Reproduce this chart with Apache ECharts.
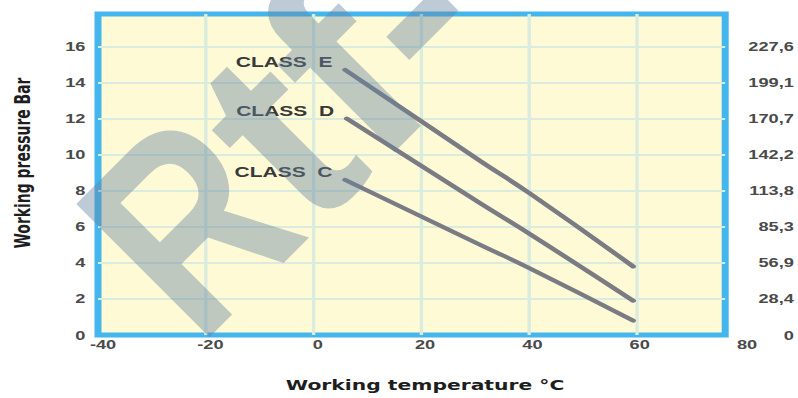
<!DOCTYPE html>
<html>
<head>
<meta charset="utf-8">
<script src="https://cdn.jsdelivr.net/npm/echarts@6/dist/echarts.min.js"></script>
<style>
  html, body { margin: 0; padding: 0; background: #ffffff; overflow: hidden; }
  /* the chart is laid out narrow and widened horizontally */
  #wrap { width: 798px; height: 398px; overflow: hidden; }
  #chart { width: 570px; height: 398px; transform-origin: 0 0; transform: scaleX(1.4); }
</style>
</head>
<body>
<div id="wrap"><div id="chart"></div></div>
<script>
// Pressure rating vs temperature for pipe classes C, D and E
const xTicks = [-40, -20, 0, 20, 40, 60, 80];          // °C
const yTicks = [0, 2, 4, 6, 8, 10, 12, 14, 16];        // bar
const psiLabels = ['0', '28,4', '56,9', '85,3', '113,8', '142,2', '170,7', '199,1', '227,6'];

const classNames = ['CLASS\u00a0\u00a0E', 'CLASS\u00a0\u00a0D', 'CLASS\u00a0\u00a0C'];
const classE = [[5.9, 14.7], [31, 9.65], [40.2, 7.85], [59.4, 3.8]];
const classD = [[6.2, 12.0], [31, 7.3], [40.2, 5.6], [59.4, 1.9]];
const classC = [[5.9, 8.6], [31, 5.0], [40.2, 3.7], [59.4, 0.8]];

const STRETCH = 1.4;
const W = 798 / STRETCH;
const LINE_COLOR = '#7a7b83';

const tickFont = { fontFamily: 'Liberation Sans', fontSize: 13, fontWeight: 'bold', color: '#4a4a4a' };

function lineSeries(name, pts) {
  return {
    name: name,
    type: 'line',
    xAxisIndex: 0,
    yAxisIndex: 0,
    symbol: 'circle',
    symbolSize: 2,
    showSymbol: true,
    itemStyle: { color: LINE_COLOR },
    smooth: 0.5,
    lineStyle: { color: LINE_COLOR, width: 4, cap: 'round' },
    label: { show: false },
    data: pts.map((p, i) => i === 0 ? {
      value: p,
      label: {
        show: true, position: 'left', distance: 8, offset: [0, -8],
        formatter: name,
        fontFamily: 'Liberation Sans', fontWeight: 'bold', fontSize: 15, color: '#383838'
      }
    } : p),
    z: 3
  };
}

// big diagonal watermark letters, placed along a 45° baseline
const wmLetters = ['R', 't', 'f', '-'];
const wmAlong = [-25, 100, 191, 282];
const wmScale = [0.81, 1, 1, 1];
function wmPos(s, h) {
  const r2 = Math.SQRT2;
  return [(548 - h * r2 + s * r2) / 2, (548 - h * r2 - s * r2) / 2];
}

const chart = echarts.init(document.getElementById('chart'), null, { renderer: 'svg' });
chart.setOption({
  animation: false,
  grid: [
    { left: 66.4, right: W - 520, top: 14, bottom: 63, show: true,
      backgroundColor: '#fffad6', borderColor: '#44b6ee', borderWidth: 5 },
    { left: 73.6, right: W - 533.6, top: 14, bottom: 63, show: false }
  ],
  xAxis: [
    { gridIndex: 0, type: 'value', min: -40, max: 76.5, interval: 20,
      axisLine: { show: false }, axisTick: { show: false }, axisLabel: { show: false },
      splitLine: { show: true, showMinLine: false, showMaxLine: false,
                   lineStyle: { color: '#d9ecdf', width: 2.4 } } },
    { gridIndex: 1, type: 'value', min: xTicks[0], max: xTicks[xTicks.length - 1], interval: 20,
      axisLine: { show: false }, axisTick: { show: false }, splitLine: { show: false },
      axisLabel: Object.assign({ margin: 6, formatter: v => xTicks.includes(v) ? String(v) : '' }, tickFont),
      name: 'Working temperature °C', nameLocation: 'middle', nameGap: 46,
      nameTextStyle: { fontFamily: 'DejaVu Sans', fontWeight: 'bold', fontSize: 14.5, color: '#1e1e1e',
                       padding: [0, 0, 0, 0] } }
  ],
  yAxis: [
    { gridIndex: 0, type: 'value', min: 0, max: 17.8, interval: 2, position: 'left',
      axisLine: { show: false }, axisTick: { show: false },
      axisLabel: Object.assign({ margin: 9, formatter: v => yTicks.includes(v) ? String(v) : '' }, tickFont),
      splitLine: { show: true, showMinLine: false, showMaxLine: false,
                   lineStyle: { color: '#d9ecdf', width: 2.2 } },
      name: 'Working pressure Bar', nameLocation: 'middle', nameGap: 46,
      nameTextStyle: { fontFamily: "'DejaVu Sans Condensed', 'DejaVu Sans'", fontWeight: 'bold',
                       fontSize: 15.5, color: '#1e1e1e', padding: [0, 0, 0, 23] } },
    { gridIndex: 0, type: 'value', min: 0, max: 17.8, interval: 2, position: 'right',
      axisLine: { show: false }, axisTick: { show: false }, splitLine: { show: false },
      axisLabel: Object.assign({ margin: 49, align: 'right',
        formatter: v => { const i = yTicks.indexOf(v); return i < 0 ? '' : psiLabels[i]; } }, tickFont) },
    { gridIndex: 1, type: 'value', show: false, min: 0, max: 1 }
  ],
  series: [
    lineSeries(classNames[0], classE),
    lineSeries(classNames[1], classD),
    lineSeries(classNames[2], classC)
  ],
  graphic: [{
    type: 'group', x: 0, y: 0, scaleX: 1 / STRETCH, silent: true, z: 100,
    children: wmLetters.map((ch, i) => {
      const p = wmPos(wmAlong[i], 96);
      return {
        type: 'text', x: p[0], y: p[1], rotation: Math.PI / 4, scaleX: wmScale[i],
        silent: true, z: 100,
        style: {
          text: ch,
          fontFamily: 'Liberation Sans', fontWeight: 'bold', fontSize: 274,
          fill: 'rgba(100,130,160,0.42)',
          align: 'center', verticalAlign: 'middle'
        }
      };
    })
  }]
});
</script>
</body>
</html>
